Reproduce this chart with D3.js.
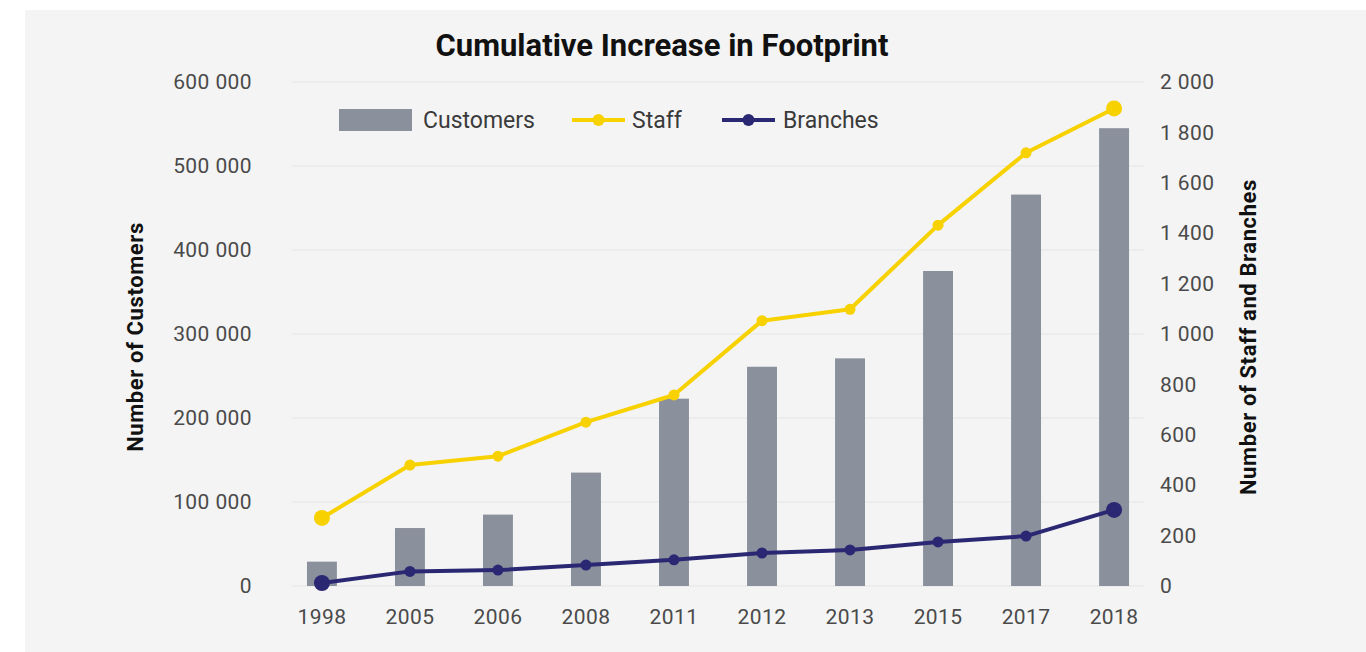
<!DOCTYPE html>
<html>
<head>
<meta charset="utf-8">
<script src="https://cdn.jsdelivr.net/npm/d3@7"></script>
<style>
  body { margin: 0; background: #ffffff; font-family: Roboto, "DejaVu Sans", sans-serif; }
  .tick text { fill: #4a4a4a; }
</style>
</head>
<body>
<div id="chart"></div>
<script>
// chart data
var years = ["1998", "2005", "2006", "2008", "2011", "2012", "2013", "2015", "2017", "2018"];
var customers = [29000, 69000, 85000, 135000, 223000, 261000, 271000, 375000, 466000, 545000];
var staff = [270, 480, 515, 650, 758, 1053, 1098, 1432, 1719, 1895];
var branches = [12, 58, 63, 83, 104, 131, 143, 175, 198, 302];
var leftTicks = [0, 100000, 200000, 300000, 400000, 500000, 600000];
var rightTicks = [0, 200, 400, 600, 800, 1000, 1200, 1400, 1600, 1800, 2000];

var W = 1366, H = 652;
var barColor = "#8a909c", staffColor = "#f7d100", branchColor = "#2b2873";

var fmt = d3.formatLocale({ decimal: ".", thousands: " ", grouping: [3], currency: ["", ""] }).format(",");

var svg = d3.select("#chart").append("svg")
    .attr("width", W)
    .attr("height", H);

// panel background
svg.append("rect")
    .attr("x", 25).attr("y", 10)
    .attr("width", W - 25).attr("height", H - 10)
    .attr("fill", "#f4f4f4");

var plot = { left: 292, right: 1144, top: 82, bottom: 586 };

var x = d3.scaleBand()
    .domain(years)
    .range([plot.left, plot.right])
    .paddingInner(0.66)
    .paddingOuter(0.17);

var yL = d3.scaleLinear().domain([0, 600000]).range([plot.bottom, plot.top]);
var yR = d3.scaleLinear().domain([0, 2000]).range([plot.bottom, plot.top]);

// gridlines
svg.append("g").selectAll("line")
    .data(leftTicks)
    .enter().append("line")
    .attr("x1", plot.left).attr("x2", plot.right)
    .attr("y1", function(d) { return yL(d); })
    .attr("y2", function(d) { return yL(d); })
    .attr("stroke", "#e4e4e4")
    .attr("stroke-width", 1);

// axes
var leftAxis = svg.append("g")
    .attr("transform", "translate(" + (plot.left - 37) + ",0)")
    .call(d3.axisLeft(yL).tickValues(leftTicks).tickFormat(fmt).tickSize(0));
var rightAxis = svg.append("g")
    .attr("transform", "translate(" + (plot.right + 13) + ",0)")
    .call(d3.axisRight(yR).tickValues(rightTicks).tickFormat(fmt).tickSize(0));
var bottomAxis = svg.append("g")
    .attr("transform", "translate(0," + (plot.bottom + 20) + ")")
    .call(d3.axisBottom(x).tickSize(0));

[leftAxis, rightAxis, bottomAxis].forEach(function(a) {
    a.select(".domain").remove();
    a.selectAll("text")
        .style("font-size", "21px")
        .style("letter-spacing", "0.4px")
        .style("font-family", "Roboto, sans-serif");
});

// bars
svg.append("g").selectAll("rect")
    .data(customers)
    .enter().append("rect")
    .attr("x", function(d, i) { return x(years[i]); })
    .attr("width", x.bandwidth())
    .attr("y", function(d) { return yL(d); })
    .attr("height", function(d) { return yL(0) - yL(d); })
    .attr("fill", barColor);

function drawLine(values, color) {
    var line = d3.line()
        .x(function(d, i) { return x(years[i]) + x.bandwidth() / 2; })
        .y(function(d) { return yR(d); });
    svg.append("path")
        .datum(values)
        .attr("d", line)
        .attr("fill", "none")
        .attr("stroke", color)
        .attr("stroke-width", 4)
        .attr("stroke-linejoin", "round");
    svg.append("g").selectAll("circle")
        .data(values)
        .enter().append("circle")
        .attr("cx", function(d, i) { return x(years[i]) + x.bandwidth() / 2; })
        .attr("cy", function(d) { return yR(d); })
        .attr("r", function(d, i) { return (i === 0 || i === values.length - 1) ? 8 : 5.5; })
        .attr("fill", color);
}
drawLine(staff, staffColor);
drawLine(branches, branchColor);

// title
svg.append("text")
    .attr("x", 662).attr("y", 56)
    .attr("text-anchor", "middle")
    .style("font-size", "31px").style("font-weight", "bold")
    .attr("fill", "#111")
    .text("Cumulative Increase in Footprint");

// axis titles
svg.append("text")
    .attr("transform", "translate(143,337) rotate(-90)")
    .attr("text-anchor", "middle")
    .style("font-size", "22px").style("font-weight", "bold")
    .style("letter-spacing", "0.6px")
    .attr("fill", "#111")
    .text("Number of Customers");
svg.append("text")
    .attr("transform", "translate(1256,337) rotate(-90)")
    .attr("text-anchor", "middle")
    .style("font-size", "22px").style("font-weight", "bold")
    .style("letter-spacing", "0.6px")
    .attr("fill", "#111")
    .text("Number of Staff and Branches");

// legend
var legend = svg.append("g").style("font-size", "23px");
legend.append("rect")
    .attr("x", 339).attr("y", 109).attr("width", 73).attr("height", 22)
    .attr("fill", barColor);
legend.append("text").attr("x", 423).attr("y", 128).attr("fill", "#3a3a3a").text("Customers");

[{ name: "Staff", color: staffColor, x0: 572, tx: 632 },
 { name: "Branches", color: branchColor, x0: 722, tx: 783 }].forEach(function(s) {
    legend.append("line")
        .attr("x1", s.x0).attr("x2", s.x0 + 53)
        .attr("y1", 120).attr("y2", 120)
        .attr("stroke", s.color).attr("stroke-width", 4);
    legend.append("circle")
        .attr("cx", s.x0 + 26.5).attr("cy", 120).attr("r", 6)
        .attr("fill", s.color);
    legend.append("text").attr("x", s.tx).attr("y", 128).attr("fill", "#3a3a3a").text(s.name);
});
</script>
</body>
</html>
